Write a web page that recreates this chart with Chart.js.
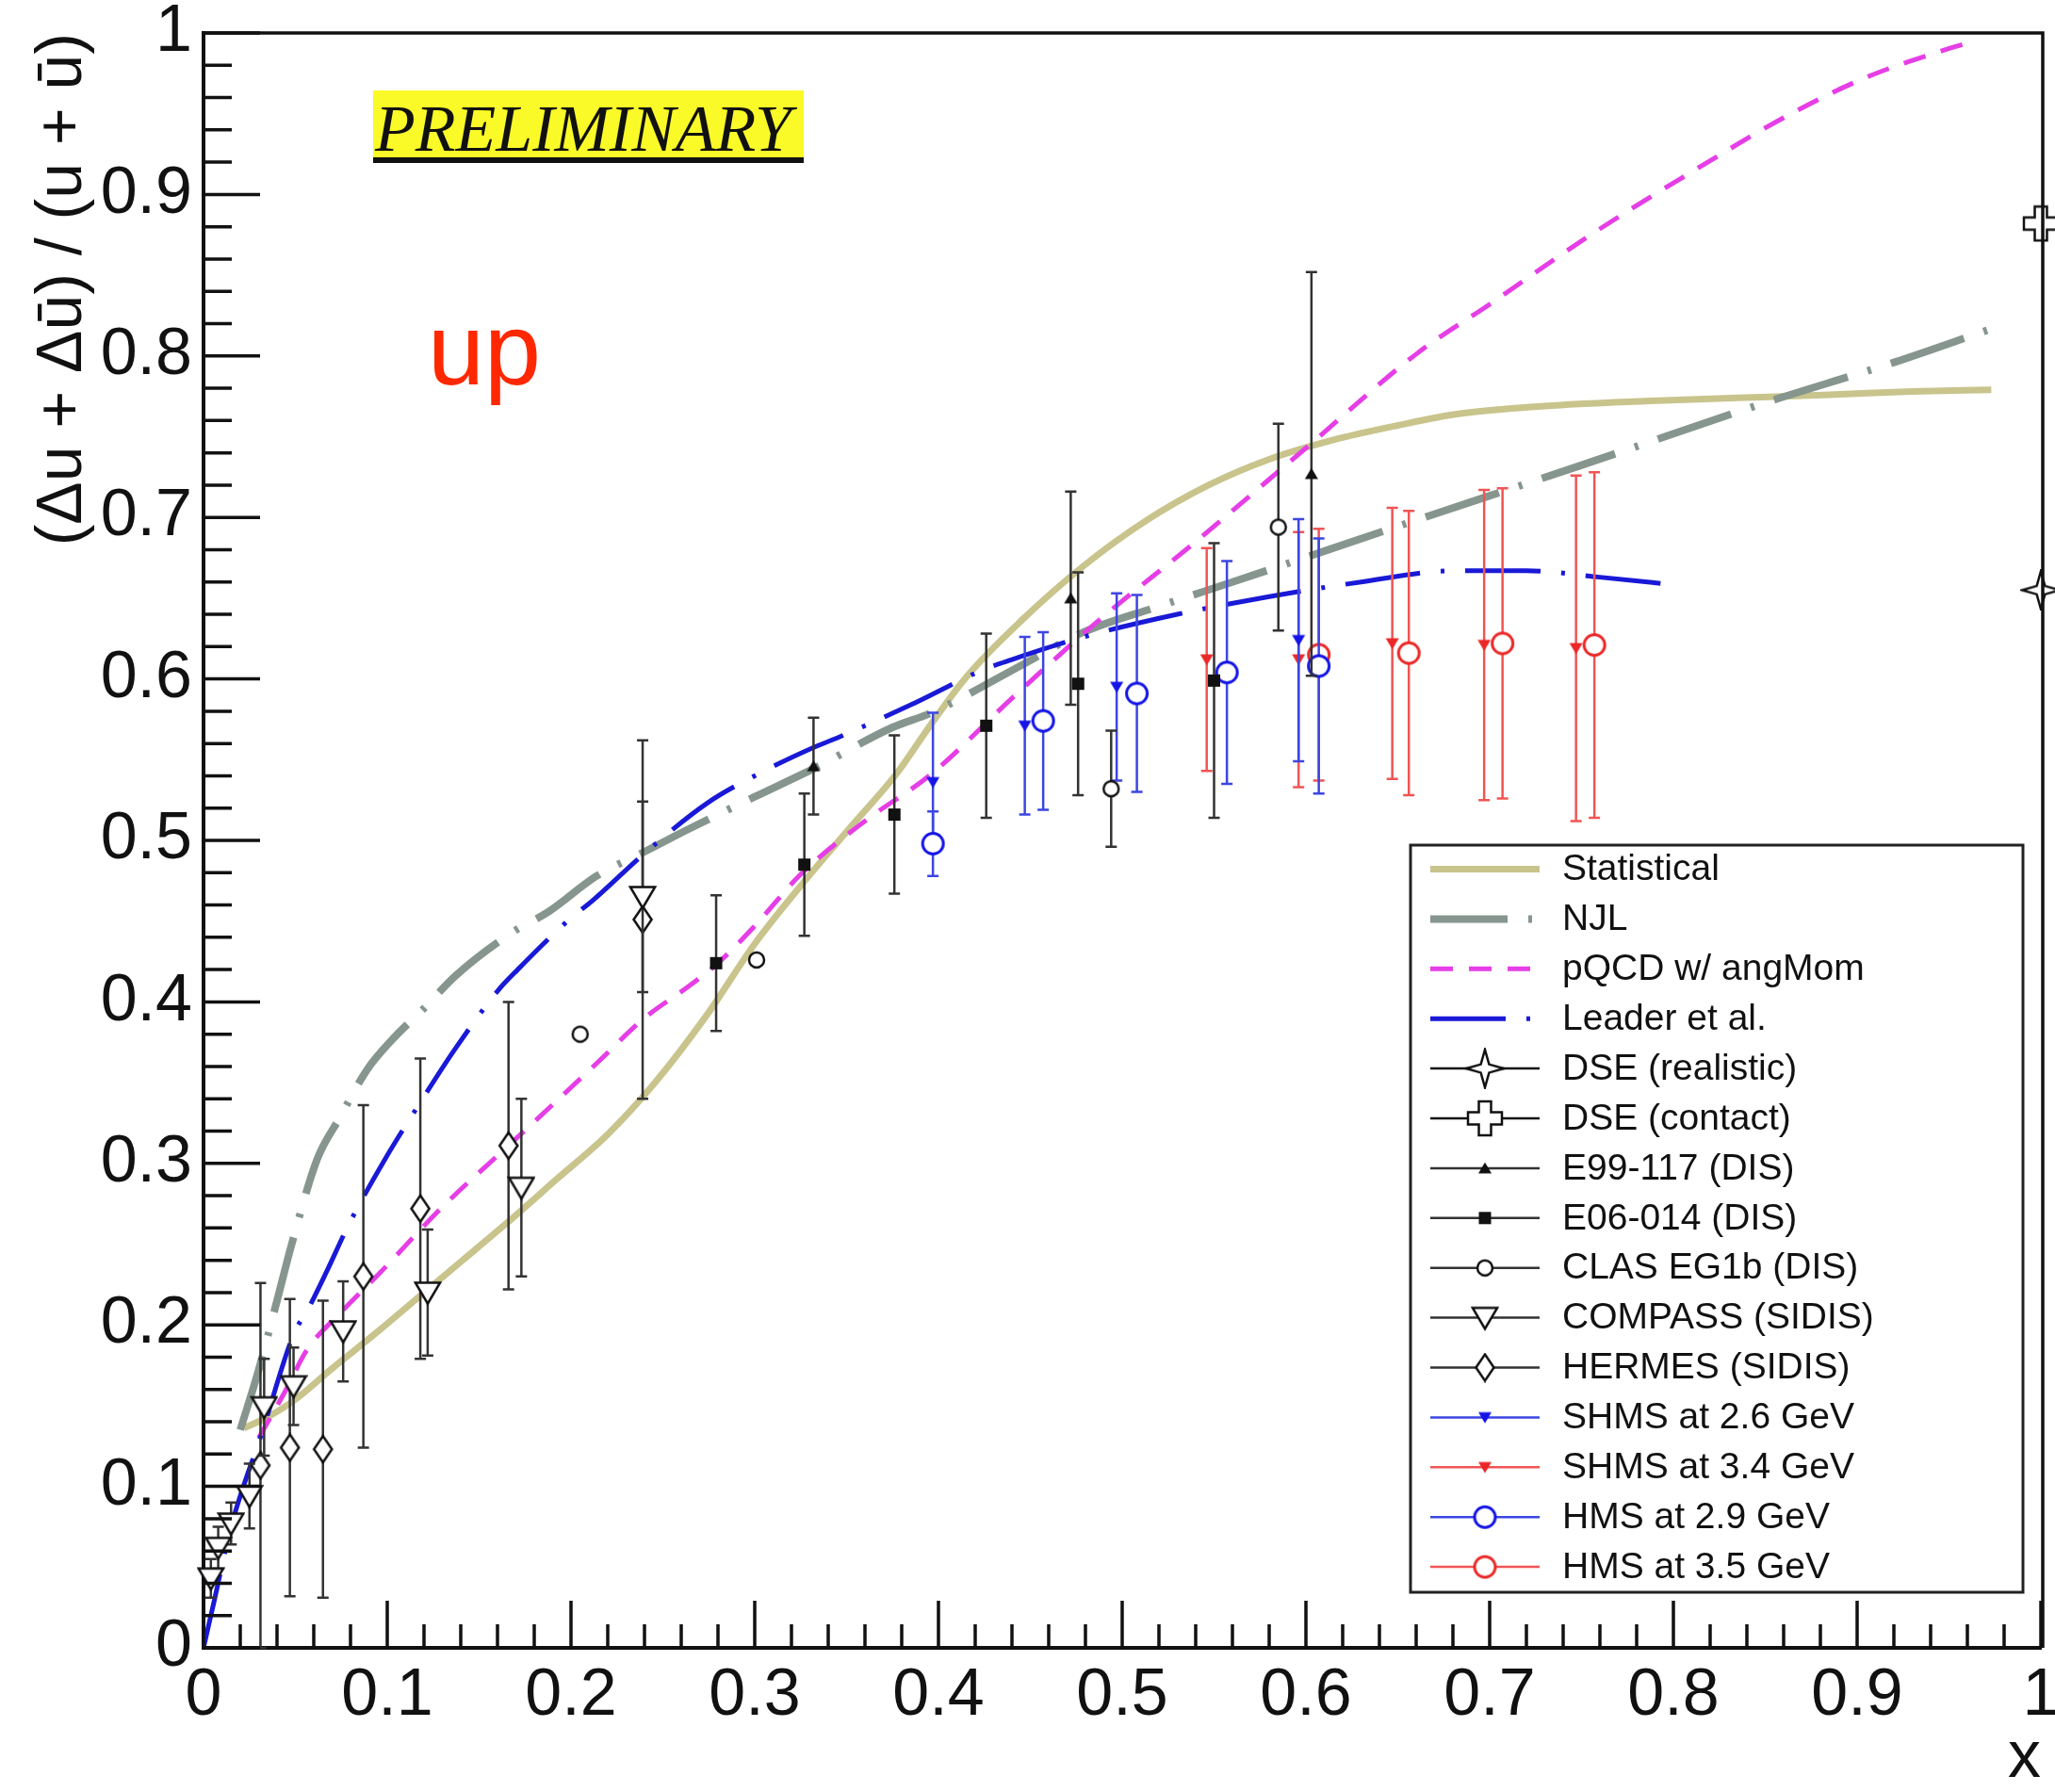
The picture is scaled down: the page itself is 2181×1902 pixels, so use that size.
<!DOCTYPE html>
<html>
<head>
<meta charset="utf-8">
<script src="https://cdn.jsdelivr.net/npm/chart.js@4.4.1/dist/chart.umd.min.js"></script>
<style>
  html, body { margin: 0; padding: 0; background: #fff; }
  canvas { display: block; }
</style>
</head>
<body>
<canvas id="upChart" width="2181" height="1902"></canvas>
<script>
'use strict';

// ---- courbes théoriques ----
const xStat = [0.022, 0.035, 0.049, 0.070, 0.095, 0.120, 0.141, 0.165, 0.193, 0.220, 0.245, 0.274, 0.300, 0.328, 0.352, 0.377, 0.396, 0.415, 0.445, 0.479, 0.513, 0.547, 0.580, 0.615, 0.650, 0.682, 0.730, 0.784, 0.835, 0.885, 0.930, 0.973];
const yStat = [0.136, 0.143, 0.153, 0.173, 0.196, 0.220, 0.240, 0.263, 0.291, 0.318, 0.349, 0.392, 0.436, 0.476, 0.508, 0.541, 0.572, 0.601, 0.636, 0.670, 0.698, 0.720, 0.736, 0.748, 0.757, 0.764, 0.769, 0.772, 0.774, 0.776, 0.778, 0.779];

const xNjl = [0.020, 0.030, 0.040, 0.048, 0.062, 0.074, 0.089, 0.103, 0.120, 0.137, 0.168, 0.188, 0.214, 0.240, 0.264, 0.300, 0.333, 0.375, 0.396, 0.446, 0.479, 0.520, 0.560, 0.654, 0.749, 0.850, 0.920, 0.971];
const yNjl = [0.135, 0.172, 0.215, 0.250, 0.303, 0.328, 0.358, 0.377, 0.396, 0.416, 0.443, 0.456, 0.478, 0.493, 0.507, 0.527, 0.545, 0.570, 0.579, 0.609, 0.629, 0.645, 0.660, 0.696, 0.732, 0.771, 0.796, 0.816];

const xPqcd = [0.030, 0.045, 0.056, 0.075, 0.095, 0.130, 0.166, 0.200, 0.214, 0.240, 0.262, 0.279, 0.300, 0.325, 0.360, 0.396, 0.440, 0.486, 0.540, 0.600, 0.661, 0.700, 0.755, 0.810, 0.864, 0.906, 0.949, 0.958];
const yPqcd = [0.130, 0.160, 0.184, 0.208, 0.231, 0.273, 0.311, 0.347, 0.362, 0.390, 0.408, 0.423, 0.447, 0.479, 0.512, 0.541, 0.588, 0.635, 0.685, 0.743, 0.802, 0.832, 0.875, 0.914, 0.950, 0.973, 0.990, 0.993];

const xLeader = [0.000, 0.006, 0.015, 0.032, 0.049, 0.057, 0.067, 0.079, 0.0995, 0.117, 0.137, 0.161, 0.171, 0.200, 0.211, 0.240, 0.274, 0.300, 0.333, 0.346, 0.385, 0.425, 0.440, 0.479, 0.530, 0.580, 0.630, 0.681, 0.720, 0.760, 0.803];
const yLeader = [0.000, 0.030, 0.075, 0.134, 0.194, 0.210, 0.233, 0.262, 0.304, 0.336, 0.371, 0.408, 0.420, 0.452, 0.462, 0.492, 0.523, 0.540, 0.558, 0.564, 0.584, 0.606, 0.612, 0.626, 0.640, 0.651, 0.660, 0.667, 0.667, 0.663, 0.658];

// ---- mesures (x, valeur, erreur) ----
const xDseReal = [1.0];
const yDseReal = [0.655];
const xDseCont = [1.0];
const yDseCont = [0.882];

const xE99 = [0.332, 0.472, 0.603];
const yE99 = [0.546, 0.650, 0.727];
const eE99 = [0.030, 0.066, 0.125];

const xE06 = [0.279, 0.327, 0.376, 0.426, 0.476, 0.550];
const yE06 = [0.424, 0.485, 0.516, 0.571, 0.597, 0.599];
const eE06 = [0.042, 0.044, 0.049, 0.057, 0.069, 0.085];

const xClas = [0.205, 0.301, 0.494, 0.585];
const yClas = [0.380, 0.426, 0.532, 0.694];
const eClas = [0, 0, 0.036, 0.064];

const xCompass = [0.004, 0.008, 0.015, 0.025, 0.033, 0.049, 0.076, 0.122, 0.173, 0.239];
const yCompass = [0.043, 0.062, 0.077, 0.094, 0.149, 0.162, 0.196, 0.220, 0.285, 0.465];
const eCompass = [0.012, 0.013, 0.013, 0.020, 0.030, 0.024, 0.031, 0.039, 0.055, 0.059];

const xHermes = [0.031, 0.047, 0.065, 0.087, 0.118, 0.166, 0.239];
const yHermes = [0.113, 0.124, 0.123, 0.230, 0.272, 0.311, 0.451];
const eHermes = [0.113, 0.092, 0.092, 0.106, 0.093, 0.089, 0.111];

const xShms26 = [0.397, 0.447, 0.497, 0.596];
const yShms26 = [0.536, 0.571, 0.595, 0.624];
const eShms26 = [0.043, 0.055, 0.058, 0.075];

const xShms34 = [0.546, 0.596, 0.647, 0.697, 0.747];
const yShms34 = [0.612, 0.612, 0.622, 0.621, 0.619];
const eShms34 = [0.069, 0.079, 0.084, 0.096, 0.107];

const xHms29 = [0.397, 0.457, 0.508, 0.557, 0.607];
const yHms29 = [0.498, 0.574, 0.591, 0.604, 0.608];
const eHms29 = [0.020, 0.055, 0.061, 0.069, 0.079];

const xHms35 = [0.607, 0.656, 0.707, 0.757];
const yHms35 = [0.615, 0.616, 0.622, 0.621];
const eHms35 = [0.078, 0.088, 0.096, 0.107];

// ---- couleurs ----
const KAKI = 'rgb(200,196,140)';
const GRIS = 'rgb(134,150,142)';
const MAGENTA = 'rgb(230,62,230)';
const BLEU_LEADER = 'rgb(25,25,215)';
const NOIR = '#111';
const BARRE_NOIRE = '#333';
const BLEU = 'rgb(20,20,230)';
const BARRE_BLEUE = 'rgb(60,70,225)';
const ROUGE = 'rgb(235,40,40)';
const BARRE_ROUGE = 'rgb(240,85,85)';
const POLICE = "'Liberation Sans', Arial, Helvetica, sans-serif";

function points(xs, ys) {
  return xs.map((x, i) => ({ x: x, y: ys[i] }));
}

// dessine un marqueur style ROOT dans un petit canvas (utilisé comme pointStyle)
function marqueur(forme, couleur, taille) {
  const c = document.createElement('canvas');
  c.width = c.height = taille;
  const g = c.getContext('2d');
  const m = taille / 2;
  const r = m - 2;
  g.translate(m, m);
  g.strokeStyle = couleur;
  g.fillStyle = couleur;
  g.lineWidth = 2.5;
  g.lineJoin = 'miter';
  g.beginPath();
  switch (forme) {
    case 'rond':
      g.arc(0, 0, r, 0, 2 * Math.PI);
      g.fillStyle = '#fff'; g.fill(); g.stroke();
      break;
    case 'rondEpais':
      g.lineWidth = 3;
      g.arc(0, 0, r - 0.5, 0, 2 * Math.PI);
      g.fillStyle = '#fff'; g.fill(); g.stroke();
      break;
    case 'triBasVide':
      g.moveTo(-r, -r * 0.8); g.lineTo(r, -r * 0.8); g.lineTo(0, r * 0.9); g.closePath();
      g.fillStyle = '#fff'; g.fill(); g.stroke();
      break;
    case 'triBasPlein':
      g.moveTo(-r, -r * 0.8); g.lineTo(r, -r * 0.8); g.lineTo(0, r * 0.9); g.closePath();
      g.fill();
      break;
    case 'triHautPlein':
      g.moveTo(-r, r * 0.8); g.lineTo(r, r * 0.8); g.lineTo(0, -r * 0.9); g.closePath();
      g.fill();
      break;
    case 'carre':
      g.rect(-r, -r, 2 * r, 2 * r);
      g.fill();
      break;
    case 'losange':
      g.moveTo(0, -r); g.lineTo(r * 0.68, 0); g.lineTo(0, r); g.lineTo(-r * 0.68, 0); g.closePath();
      g.fillStyle = '#fff'; g.fill(); g.stroke();
      break;
    case 'etoile': {
      const k = r * 0.22;
      g.moveTo(0, -r); g.lineTo(k, -k); g.lineTo(r, 0); g.lineTo(k, k);
      g.lineTo(0, r); g.lineTo(-k, k); g.lineTo(-r, 0); g.lineTo(-k, -k); g.closePath();
      g.fillStyle = '#fff'; g.fill(); g.stroke();
      break;
    }
    case 'croix': {
      const a = r * 0.36;
      g.moveTo(-a, -r); g.lineTo(a, -r); g.lineTo(a, -a); g.lineTo(r, -a); g.lineTo(r, a);
      g.lineTo(a, a); g.lineTo(a, r); g.lineTo(-a, r); g.lineTo(-a, a); g.lineTo(-r, a);
      g.lineTo(-r, -a); g.lineTo(-a, -a); g.closePath();
      g.fillStyle = '#fff'; g.fill(); g.stroke();
      break;
    }
  }
  return c;
}

function courbe(label, xs, ys, couleur, epaisseur, tirets) {
  return {
    label: label,
    data: points(xs, ys),
    showLine: true,
    borderColor: couleur,
    borderWidth: epaisseur,
    borderDash: tirets,
    pointRadius: 0,
    fill: false,
    cubicInterpolationMode: 'monotone'
  };
}

function mesures(label, xs, ys, es, style, barre) {
  return {
    label: label,
    data: points(xs, ys),
    erreurs: es,
    couleurBarre: barre,
    pointStyle: style,
    pointRadius: 8,
    showLine: false,
    clip: false
  };
}

// les mesures en premier -> dessinées par-dessus les courbes
const datasets = [
  mesures('DSE (realistic)', xDseReal, yDseReal, null, marqueur('etoile', NOIR, 44), NOIR),
  mesures('DSE (contact)', xDseCont, yDseCont, null, marqueur('croix', NOIR, 40), NOIR),
  mesures('E99-117 (DIS)', xE99, yE99, eE99, marqueur('triHautPlein', NOIR, 18), BARRE_NOIRE),
  mesures('E06-014 (DIS)', xE06, yE06, eE06, marqueur('carre', NOIR, 17), BARRE_NOIRE),
  mesures('CLAS EG1b (DIS)', xClas, yClas, eClas, marqueur('rond', NOIR, 20), BARRE_NOIRE),
  mesures('HMS at 2.9 GeV', xHms29, yHms29, eHms29, marqueur('rondEpais', BLEU, 27), BARRE_BLEUE),
  mesures('HMS at 3.5 GeV', xHms35, yHms35, eHms35, marqueur('rondEpais', ROUGE, 27), BARRE_ROUGE),
  mesures('SHMS at 2.6 GeV', xShms26, yShms26, eShms26, marqueur('triBasPlein', BLEU, 18), BARRE_BLEUE),
  mesures('SHMS at 3.4 GeV', xShms34, yShms34, eShms34, marqueur('triBasPlein', ROUGE, 18), BARRE_ROUGE),
  mesures('COMPASS (SIDIS)', xCompass, yCompass, eCompass, marqueur('triBasVide', NOIR, 30), BARRE_NOIRE),
  mesures('HERMES (SIDIS)', xHermes, yHermes, eHermes, marqueur('losange', NOIR, 32), BARRE_NOIRE),
  courbe('Leader et al.', xLeader, yLeader, BLEU_LEADER, 5, [80, 22, 4, 22]),
  courbe('pQCD w/ angMom', xPqcd, yPqcd, MAGENTA, 5, [24, 17]),
  courbe('NJL', xNjl, yNjl, GRIS, 8, [82, 22, 4, 22]),
  courbe('Statistical', xStat, yStat, KAKI, 7, [])
];

const ordreLegende = [
  'Statistical', 'NJL', 'pQCD w/ angMom', 'Leader et al.',
  'DSE (realistic)', 'DSE (contact)', 'E99-117 (DIS)', 'E06-014 (DIS)',
  'CLAS EG1b (DIS)', 'COMPASS (SIDIS)', 'HERMES (SIDIS)',
  'SHMS at 2.6 GeV', 'SHMS at 3.4 GeV', 'HMS at 2.9 GeV', 'HMS at 3.5 GeV'
];

// barres d'erreur verticales, dessinées juste avant les marqueurs du jeu
const barresErreur = {
  id: 'barresErreur',
  beforeDatasetDraw(chart, args) {
    const ds = chart.data.datasets[args.index];
    if (!ds.erreurs) return;
    const { ctx, scales: { x, y } } = chart;
    ctx.save();
    ctx.strokeStyle = ds.couleurBarre;
    ctx.lineWidth = 2.5;
    ds.data.forEach((p, i) => {
      const e = ds.erreurs[i];
      if (!e) return;
      const px = x.getPixelForValue(p.x);
      const haut = y.getPixelForValue(p.y + e);
      const bas = y.getPixelForValue(p.y - e);
      ctx.beginPath();
      ctx.moveTo(px, haut); ctx.lineTo(px, bas);
      ctx.moveTo(px - 6, haut); ctx.lineTo(px + 6, haut);
      ctx.moveTo(px - 6, bas); ctx.lineTo(px + 6, bas);
      ctx.stroke();
    });
    ctx.restore();
  }
};

// graduations intérieures + cadre haut/droite
const graduations = {
  id: 'graduations',
  afterDatasetsDraw(chart) {
    const { ctx, chartArea: a, scales: { x, y } } = chart;
    ctx.save();
    ctx.strokeStyle = NOIR;
    ctx.lineWidth = 3.5;
    ctx.beginPath();
    for (let i = 0; i <= 50; i++) {
      const v = i / 50;
      const major = i % 5 === 0;
      const px = x.getPixelForValue(v);
      ctx.moveTo(px, a.bottom); ctx.lineTo(px, a.bottom - (major ? 50 : 25));
      const py = y.getPixelForValue(v);
      ctx.moveTo(a.left, py); ctx.lineTo(a.left + (major ? 60 : 30), py);
    }
    ctx.stroke();
    ctx.beginPath();
    ctx.moveTo(a.left, a.top);
    ctx.lineTo(a.right + 2, a.top);
    ctx.lineTo(a.right + 2, a.bottom);
    ctx.stroke();
    ctx.restore();
  }
};

// textes libres : PRELIMINARY, "up", et la légende encadrée
const annotations = {
  id: 'annotations',
  afterDraw(chart) {
    const { ctx } = chart;
    ctx.save();

    // bandeau jaune souligné
    ctx.fillStyle = 'rgb(250,250,40)';
    ctx.fillRect(396, 96, 457, 76);
    ctx.fillStyle = NOIR;
    ctx.font = "italic 70px 'Liberation Serif', 'Times New Roman', serif";
    ctx.textBaseline = 'alphabetic';
    ctx.textAlign = 'left';
    ctx.fillText('PRELIMINARY', 398, 160);
    ctx.fillRect(396, 167, 457, 6);

    ctx.fillStyle = 'rgb(255,40,0)';
    ctx.font = '108px ' + POLICE;
    ctx.fillText('up', 454, 408);

    // cadre de légende
    const g = 1497, d = 2147, h = 897, b = 1690;
    ctx.fillStyle = '#fff';
    ctx.fillRect(g, h, d - g, b - h);
    ctx.strokeStyle = '#222';
    ctx.lineWidth = 3;
    ctx.strokeRect(g, h, d - g, b - h);

    const pas = 52.9;
    ordreLegende.forEach((nom, i) => {
      const ds = chart.data.datasets.find(s => s.label === nom);
      const yc = 922.5 + i * pas;
      const x0 = 1518, x1 = 1634, xm = 1576;
      ctx.save();
      ctx.beginPath();
      ctx.moveTo(x0, yc); ctx.lineTo(x1, yc);
      if (ds.showLine) {
        ctx.strokeStyle = ds.borderColor;
        ctx.lineWidth = ds.borderWidth;
        ctx.setLineDash(ds.borderDash);
        ctx.stroke();
      } else {
        ctx.strokeStyle = ds.couleurBarre;
        ctx.lineWidth = 2.5;
        ctx.stroke();
        const s = ds.pointStyle;
        ctx.drawImage(s, xm - s.width / 2, yc - s.height / 2);
      }
      ctx.restore();
      ctx.fillStyle = NOIR;
      ctx.font = '39px ' + POLICE;
      ctx.textBaseline = 'middle';
      ctx.fillText(nom, 1658, yc + 1);
    });
    ctx.restore();
  }
};

const policeGraduation = { family: POLICE, size: 70 };

new Chart(document.getElementById('upChart'), {
  type: 'scatter',
  data: { datasets: datasets },
  plugins: [barresErreur, graduations, annotations],
  options: {
    responsive: false,
    animation: false,
    layout: { padding: { left: 0, right: 15, top: 35, bottom: 0 } },
    plugins: {
      legend: { display: false },
      tooltip: { enabled: false }
    },
    scales: {
      x: {
        type: 'linear',
        min: 0,
        max: 1,
        grid: { display: false, drawTicks: false },
        border: { display: true, color: NOIR, width: 4 },
        ticks: {
          stepSize: 0.1,
          padding: 10,
          autoSkip: false,
          maxRotation: 0,
          color: NOIR,
          font: policeGraduation,
          callback: v => String(Number(v.toFixed(1)))
        },
        title: {
          display: true,
          text: 'x',
          align: 'end',
          color: NOIR,
          font: { family: POLICE, size: 70, lineHeight: 1 },
          padding: { top: 0, bottom: 0 }
        },
        afterFit(s) {
          s.height = 153;
          s.paddingLeft = 0;
          s.paddingRight = 0;
        }
      },
      y: {
        type: 'linear',
        min: 0,
        max: 1,
        grid: { display: false, drawTicks: false },
        border: { display: true, color: NOIR, width: 4 },
        ticks: {
          stepSize: 0.1,
          padding: 12,
          color: NOIR,
          font: policeGraduation,
          callback: v => String(Number(v.toFixed(1)))
        },
        title: {
          display: true,
          text: '(Δu + Δū) / (u + ū)',
          align: 'end',
          color: NOIR,
          font: { family: POLICE, size: 68, lineHeight: 1 },
          padding: { top: 33, bottom: 0 }
        },
        afterFit(s) {
          s.width = 216;
          s.paddingTop = 0;
          s.paddingBottom = 0;
        }
      }
    }
  }
});
</script>
</body>
</html>
